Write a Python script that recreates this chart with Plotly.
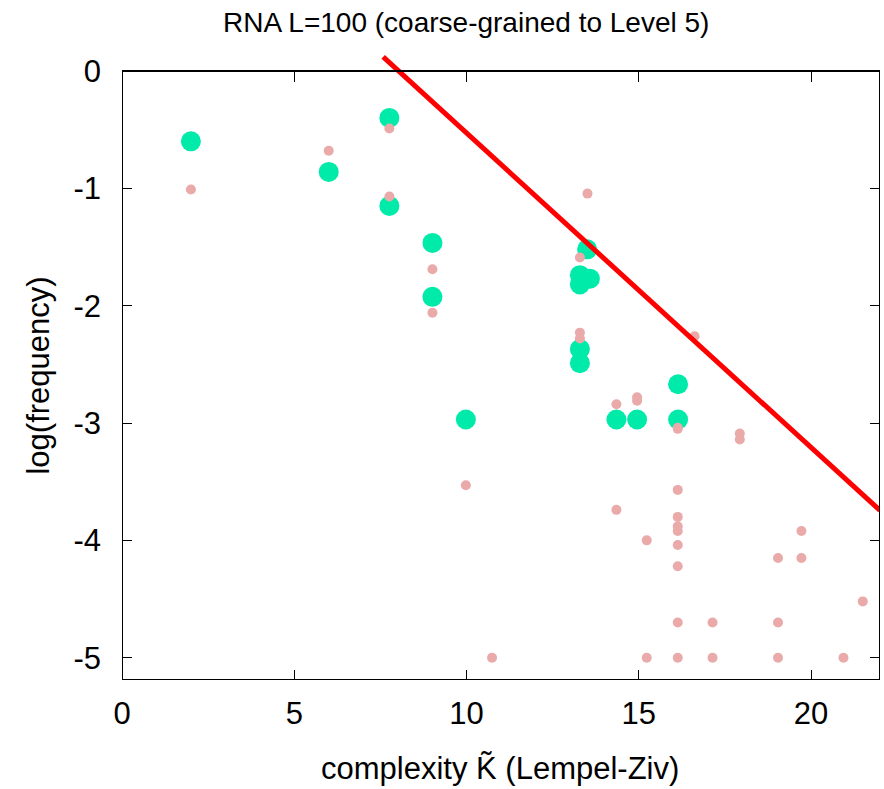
import plotly.graph_objects as go

# Green (large) points: complexity, log(frequency)
green_x = [2.0, 6.0, 7.76, 7.76, 9.01, 9.01, 9.98, 13.5, 13.29, 13.58, 13.29,
           13.29, 13.29, 14.35, 14.95, 16.14, 16.14]
green_y = [-0.60, -0.86, -0.40, -1.15, -1.465, -1.925, -2.97, -1.52, -1.74, -1.77, -1.82,
           -2.37, -2.49, -2.97, -2.97, -2.67, -2.97]

# Pink (small) points
pink_x = [2.0, 6.0, 7.76, 7.76, 9.01, 9.01, 9.98, 10.74,
          13.51, 13.29, 13.29, 13.29,
          14.35, 14.35, 14.95, 14.95,
          15.23, 15.23,
          16.13, 16.13, 16.13, 16.13, 16.13, 16.13, 16.13, 16.13, 16.13, 16.13,
          16.62, 17.14, 17.14,
          17.93, 17.93,
          19.04, 19.04, 19.04,
          19.72, 19.72,
          20.94, 21.5]
pink_y = [-1.01, -0.68, -0.49, -1.07, -1.69, -2.06, -3.53, -5.0,
          -1.045, -1.59, -2.23, -2.28,
          -2.84, -3.74, -2.78, -2.81,
          -4.0, -5.0,
          -3.04, -3.57, -3.80, -3.88, -3.92, -4.04, -4.22, -4.70, -5.0, -3.05,
          -2.26, -4.70, -5.0,
          -3.09, -3.14,
          -4.15, -4.70, -5.0,
          -3.92, -4.15,
          -5.0, -4.52]

# Red bound line
fit_x = [7.58, 22.0]
fit_y = [0.12, -3.745]

x_ticks = [0, 5, 10, 15, 20]
x_ticktext = ["0", "5", "10", "15", "20"]
y_ticks = [0, -1, -2, -3, -4, -5]
y_ticktext = ["0", "-1", "-2", "-3", "-4", "-5"]

X_RANGE = [0, 22]
Y_RANGE = [-5.19, 0.136]
FONT = "Liberation Sans, Arial, Helvetica, sans-serif"

fig = go.Figure()
fig.add_trace(go.Scatter(x=green_x, y=green_y, mode="markers",
                         marker=dict(size=20, color="#00EBAA", line=dict(width=0)),
                         showlegend=False, cliponaxis=False))
fig.add_trace(go.Scatter(x=pink_x, y=pink_y, mode="markers",
                         marker=dict(size=10, color="#EAAAAA", line=dict(width=0)),
                         showlegend=False, cliponaxis=False))
fig.add_trace(go.Scatter(x=fit_x, y=fit_y, mode="lines", xaxis="x2",
                         line=dict(color="#FF0000", width=5),
                         showlegend=False))

# frame box ending at y=0
fig.add_shape(type="rect", xref="x", yref="y", x0=X_RANGE[0], x1=X_RANGE[1],
              y0=Y_RANGE[0], y1=0, line=dict(color="black", width=2), layer="above")

top_frac = (0 - Y_RANGE[0]) / (Y_RANGE[1] - Y_RANGE[0])

fig.update_layout(
    width=884, height=789,
    margin=dict(l=121.5, r=4, t=55, b=109),
    plot_bgcolor="white", paper_bgcolor="white",
    font=dict(family=FONT, size=31, color="black"),
    xaxis=dict(range=X_RANGE, tickvals=x_ticks, ticktext=x_ticktext, ticks="inside",
               ticklen=10, tickwidth=1, tickcolor="black", showgrid=False,
               zeroline=False, showline=False, tickfont=dict(size=31),
               ticklabelstandoff=12),
    xaxis2=dict(range=X_RANGE, overlaying="x", anchor="free", position=top_frac,
                side="top", tickvals=x_ticks, ticks="inside", ticklen=10,
                tickwidth=1, tickcolor="black", showticklabels=False,
                showgrid=False, zeroline=False, showline=False),
    yaxis=dict(range=Y_RANGE, tickvals=y_ticks, ticktext=y_ticktext, ticks="inside",
               ticklen=10, tickwidth=1, tickcolor="black", mirror="ticks",
               showgrid=False, zeroline=False, showline=False,
               tickfont=dict(size=31), ticklabelstandoff=20),
    annotations=[
        dict(text="RNA L=100 (coarse-grained to Level 5)", xref="paper", yref="paper",
             x=(466 - 121.5) / 758.5, y=(680 - 22) / 625, xanchor="center",
             yanchor="middle", showarrow=False, font=dict(size=28)),
        dict(text="complexity K\u0303 (Lempel-Ziv)", xref="paper", yref="paper",
             x=(500 - 121.5) / 758.5, y=(680 - 768) / 625, xanchor="center",
             yanchor="middle", showarrow=False, font=dict(size=31)),
        dict(text="log(frequency)", xref="paper", yref="paper",
             x=(37 - 121.5) / 758.5, y=(680 - 376) / 625, xanchor="center",
             yanchor="middle", textangle=-90, showarrow=False, font=dict(size=31)),
    ],
)

fig.write_html("out.html")
